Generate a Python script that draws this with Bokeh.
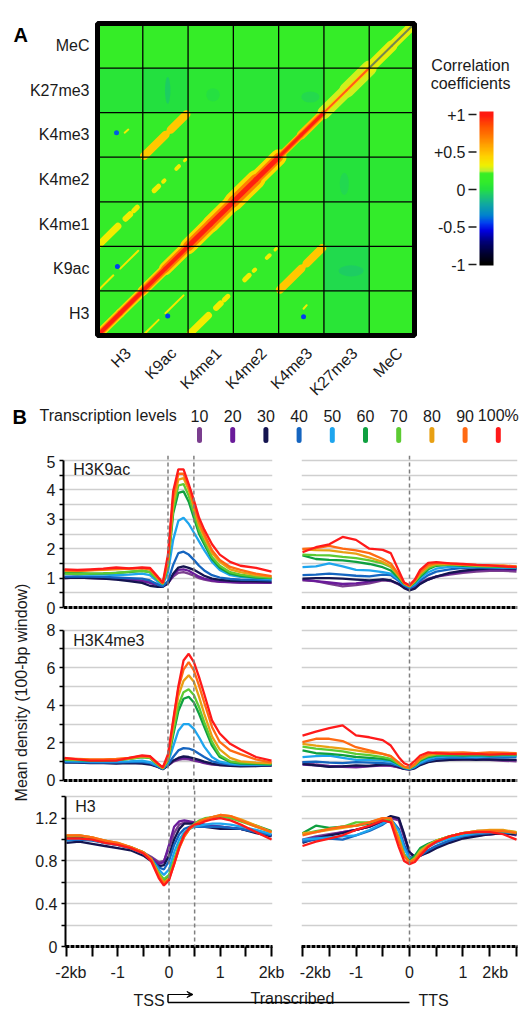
import numpy as np
from bokeh.plotting import figure
from bokeh.layouts import column, row
from bokeh.models import (Range1d, FixedTicker, Span, Label, LinearColorMapper,
                          ColumnDataSource, Arrow, VeeHead)
from bokeh.core.properties import value
from bokeh.embed import file_html
from bokeh.resources import INLINE

FONT = "Liberation Sans"
TXT = "#1a1a1a"
NB = "\u00a0"

# ======================= Panel A data =======================
marks = ["H3", "K9ac", "K4me1", "K4me2", "K4me3", "K27me3", "MeC"]
# block mean correlation; rows bottom->top, columns left->right (marks order)
block_corr = [
    [0.14, 0.10, 0.13, 0.13, 0.10, 0.04, 0.12],
    [0.10, 0.14, 0.10, 0.10, 0.12, -0.02, 0.10],
    [0.12, 0.10, 0.15, 0.15, 0.10, 0.04, 0.10],
    [0.12, 0.12, 0.15, 0.15, 0.14, 0.02, 0.06],
    [0.12, 0.12, 0.15, 0.14, 0.15, 0.04, 0.12],
    [0.04, 0.00, 0.06, 0.05, 0.04, 0.12, 0.14],
    [0.15, 0.14, 0.15, 0.14, 0.15, 0.14, 0.15],
]
# main diagonal bands (position along diagonal, block units)
diag_t0 = [0.06, 0.5, 1.0, 1.5, 2.0, 2.5, 3.0, 3.5, 4.0, 4.5, 5.0, 5.5, 6.0, 6.5]
diag_t1 = [0.5, 1.0, 1.5, 2.0, 2.5, 3.0, 3.5, 4.0, 4.5, 5.0, 5.5, 6.0, 6.5, 6.94]
diag_halo_px = [9, 9, 10, 13, 16, 17, 19, 16, 7, 9, 13, 15, 11, 9]
diag_halo_r = [0.42, 0.42, 0.42, 0.42, 0.40, 0.40, 0.40, 0.40, 0.50, 0.50, 0.28, 0.28, 0.30, 0.30]
diag_mid_px = [6, 6, 7, 8, 10, 10, 11, 9, 5, 5, 4, 4, 3, 3]
diag_mid_r = [0.72, 0.72, 0.72, 0.72, 0.70, 0.70, 0.70, 0.70, 0.75, 0.75, 0.45, 0.45, 0.40, 0.40]
diag_core_px = [4, 4, 4, 4, 5, 5, 5, 5, 3, 3, 2, 2, 2, 2]
diag_core_col = ["#ff2010"] * 10 + ["#ff5a1a"] * 2 + ["#6f8c50"] * 2
# off-diagonal correlated bands (one half; mirrored across the diagonal)
band_x0 = [1.03, 1.50, 1.62, 0.05, 0.62, 0.80, 1.25, 1.45, 1.74, 1.92, 0.05, 0.50, 4.55]
band_y0 = [4.03, 4.50, 4.62, 2.05, 2.62, 2.80, 3.25, 3.45, 3.74, 3.92, 1.05, 1.50, 0.60]
band_x1 = [1.50, 1.62, 1.96, 0.45, 0.72, 0.88, 1.35, 1.48, 1.80, 1.95, 0.35, 0.90, 4.62]
band_y1 = [4.50, 4.62, 4.96, 2.45, 2.72, 2.88, 3.35, 3.48, 3.80, 3.95, 1.35, 1.90, 0.68]
band_px = [8, 5, 8, 7, 6, 5, 5, 4, 4, 3, 2, 2, 2]
band_r = [0.47, 0.47, 0.47, 0.33, 0.33, 0.33, 0.33, 0.33, 0.33, 0.33, 0.35, 0.35, 0.33]
# small negative spots
spot_x = [0.44, 1.55, 4.55, 0.42]
spot_y = [1.55, 0.44, 0.42, 4.55]
spot_r = [-0.45, -0.45, -0.45, -0.40]
# faint bluish patches
blob_x = [1.55, 5.60, 4.70, 5.45, 2.55]
blob_y = [5.50, 1.45, 5.35, 3.40, 5.40]
blob_w = [0.12, 0.55, 0.40, 0.20, 0.30]
blob_h = [0.60, 0.25, 0.25, 0.50, 0.30]
blob_r = [-0.12, -0.10, -0.05, -0.05, -0.02]

# colour scale stops
cmap_vals = [-1.0, -0.85, -0.7, -0.55, -0.45, -0.35, -0.2, -0.05, 0.0, 0.1, 0.22, 0.25,
             0.32, 0.45, 0.55, 0.7, 0.85, 1.0]
cmap_cols = ["#000000", "#000033", "#00007a", "#0000e0", "#0040f0", "#0080d0", "#10a8a0",
             "#20d060", "#22e040", "#33ec2a", "#38ee24", "#b8f030", "#f0f000", "#ffd000",
             "#ffb000", "#ff8000", "#ff5000", "#ff1a10"]
cbar_ticks = [-1, -0.5, 0, 0.5, 1]
cbar_labels = ["-1", "-0.5", "0", "+0.5", "+1"]

# ======================= Panel B data =======================
levels = ["10", "20", "30", "40", "50", "60", "70", "80", "90", "100%"]
level_colors = ["#7a3e8e", "#6a1b9a", "#141450", "#1565c0", "#1ea5ee",
                "#0fa040", "#5ccb32", "#e8a013", "#ff6a13", "#ff1a1a"]

x_tss = [-2.0, -1.75, -1.5, -1.25, -1.0, -0.75, -0.5, -0.35, -0.2, -0.1, 0.0, 0.1, 0.2, 0.3,
         0.4, 0.5, 0.6, 0.7, 0.85, 1.0, 1.2, 1.4, 1.7, 2.0]
x_tts = [-2.0, -1.75, -1.5, -1.25, -1.0, -0.75, -0.5, -0.35, -0.2, -0.1, 0.0, 0.1, 0.2, 0.35,
         0.5, 0.75, 1.0, 1.25, 1.5, 1.75, 2.0]

k9ac_tss = [
    [1.00, 1.02, 1.00, 0.98, 0.97, 0.95, 0.92, 0.88, 0.80, 0.76, 0.85, 1.05, 1.18, 1.20, 1.15, 1.08, 1.00, 0.95, 0.90, 0.87, 0.86, 0.85, 0.85, 0.84],
    [1.02, 1.04, 1.02, 1.00, 0.98, 0.96, 0.90, 0.84, 0.76, 0.72, 0.82, 1.10, 1.28, 1.30, 1.25, 1.15, 1.05, 0.98, 0.92, 0.88, 0.86, 0.85, 0.85, 0.84],
    [1.00, 1.02, 1.00, 0.98, 0.95, 0.90, 0.84, 0.74, 0.70, 0.70, 0.82, 1.15, 1.36, 1.40, 1.35, 1.28, 1.18, 1.08, 0.98, 0.94, 0.91, 0.90, 0.89, 0.88],
    [1.05, 1.06, 1.05, 1.04, 1.02, 1.00, 0.98, 0.92, 0.78, 0.72, 0.90, 1.45, 1.85, 1.90, 1.80, 1.62, 1.42, 1.26, 1.10, 1.02, 0.97, 0.95, 0.94, 0.92],
    [1.15, 1.14, 1.12, 1.12, 1.10, 1.12, 1.15, 1.10, 0.88, 0.78, 1.20, 2.30, 2.95, 3.05, 2.85, 2.55, 2.25, 1.95, 1.55, 1.28, 1.10, 1.04, 1.00, 0.97],
    [1.18, 1.17, 1.15, 1.16, 1.18, 1.20, 1.25, 1.20, 0.95, 0.80, 1.40, 3.20, 3.90, 3.95, 3.60, 3.05, 2.50, 2.15, 1.65, 1.35, 1.15, 1.08, 1.02, 1.00],
    [1.15, 1.14, 1.15, 1.16, 1.18, 1.22, 1.25, 1.20, 0.95, 0.80, 1.45, 3.35, 4.15, 4.20, 3.80, 3.20, 2.62, 2.25, 1.72, 1.42, 1.20, 1.12, 1.05, 1.02],
    [1.25, 1.24, 1.26, 1.28, 1.30, 1.32, 1.35, 1.30, 1.00, 0.82, 1.55, 3.55, 4.35, 4.40, 4.00, 3.40, 2.80, 2.40, 1.85, 1.55, 1.30, 1.20, 1.10, 1.05],
    [1.27, 1.25, 1.27, 1.30, 1.32, 1.32, 1.34, 1.30, 1.02, 0.82, 1.65, 3.75, 4.55, 4.55, 4.10, 3.50, 2.90, 2.50, 1.95, 1.62, 1.38, 1.28, 1.15, 1.07],
    [1.30, 1.28, 1.30, 1.32, 1.36, 1.33, 1.36, 1.35, 1.05, 0.84, 1.80, 3.95, 4.70, 4.70, 4.20, 3.65, 3.05, 2.65, 2.15, 1.80, 1.55, 1.42, 1.35, 1.22],
]
k9ac_tts = [
    [0.92, 0.90, 0.80, 0.72, 0.76, 0.82, 0.92, 0.90, 0.78, 0.70, 0.66, 0.72, 0.85, 0.98, 1.05, 1.12, 1.18, 1.22, 1.25, 1.25, 1.22],
    [0.95, 0.90, 0.85, 0.80, 0.82, 0.88, 0.95, 0.92, 0.80, 0.70, 0.64, 0.70, 0.82, 0.95, 1.05, 1.15, 1.22, 1.28, 1.30, 1.30, 1.28],
    [0.98, 1.00, 1.00, 0.98, 0.95, 0.92, 0.96, 0.92, 0.80, 0.66, 0.58, 0.64, 0.80, 0.95, 1.05, 1.18, 1.25, 1.30, 1.33, 1.33, 1.32],
    [1.10, 1.12, 1.15, 1.12, 1.08, 1.06, 1.12, 1.10, 0.90, 0.75, 0.66, 0.75, 0.92, 1.10, 1.22, 1.30, 1.35, 1.36, 1.36, 1.35, 1.34],
    [1.37, 1.40, 1.50, 1.40, 1.28, 1.26, 1.20, 1.15, 0.95, 0.78, 0.70, 0.80, 1.00, 1.20, 1.32, 1.38, 1.38, 1.38, 1.37, 1.36, 1.35],
    [1.77, 1.65, 1.62, 1.60, 1.55, 1.48, 1.37, 1.26, 1.00, 0.80, 0.72, 0.85, 1.05, 1.30, 1.42, 1.45, 1.42, 1.40, 1.40, 1.38, 1.37],
    [1.80, 1.78, 1.77, 1.72, 1.68, 1.60, 1.50, 1.38, 1.05, 0.82, 0.72, 0.88, 1.10, 1.35, 1.45, 1.47, 1.45, 1.42, 1.40, 1.40, 1.38],
    [1.98, 1.95, 1.94, 1.88, 1.83, 1.70, 1.55, 1.40, 1.08, 0.82, 0.72, 0.90, 1.15, 1.40, 1.48, 1.48, 1.45, 1.43, 1.42, 1.42, 1.40],
    [1.99, 2.02, 2.10, 2.00, 1.94, 1.85, 1.65, 1.50, 1.12, 0.84, 0.74, 0.92, 1.20, 1.45, 1.52, 1.50, 1.47, 1.45, 1.43, 1.42, 1.40],
    [1.88, 2.05, 2.15, 2.40, 2.30, 2.00, 1.96, 1.85, 1.25, 0.85, 0.76, 0.95, 1.28, 1.52, 1.54, 1.50, 1.48, 1.45, 1.43, 1.40, 1.37],
]
k4me3_tss = [
    [1.00, 0.98, 0.95, 0.95, 0.95, 0.95, 0.95, 0.90, 0.75, 0.62, 0.80, 1.00, 1.10, 1.15, 1.12, 1.05, 1.00, 0.92, 0.85, 0.82, 0.80, 0.80, 0.80, 0.78],
    [1.00, 1.00, 0.98, 0.96, 0.95, 0.96, 0.95, 0.90, 0.75, 0.62, 0.82, 1.05, 1.15, 1.20, 1.18, 1.10, 1.02, 0.95, 0.88, 0.85, 0.82, 0.80, 0.80, 0.80],
    [0.95, 0.95, 0.92, 0.92, 0.90, 0.92, 0.90, 0.85, 0.72, 0.60, 0.80, 1.05, 1.20, 1.28, 1.25, 1.18, 1.10, 1.00, 0.90, 0.82, 0.78, 0.75, 0.76, 0.80],
    [0.98, 0.98, 0.95, 0.95, 0.95, 0.98, 0.98, 0.92, 0.75, 0.62, 0.85, 1.25, 1.60, 1.72, 1.70, 1.60, 1.42, 1.25, 1.02, 0.92, 0.85, 0.82, 0.82, 0.82],
    [1.05, 1.02, 1.00, 1.00, 1.00, 1.02, 1.05, 0.98, 0.78, 0.64, 0.95, 1.80, 2.65, 3.00, 3.00, 2.75, 2.30, 1.80, 1.25, 1.00, 0.90, 0.85, 0.85, 0.85],
    [1.10, 1.08, 1.05, 1.05, 1.08, 1.15, 1.25, 1.20, 0.85, 0.65, 1.05, 2.40, 3.70, 4.35, 4.45, 4.15, 3.55, 2.85, 1.85, 1.25, 0.98, 0.90, 0.88, 0.85],
    [1.12, 1.10, 1.08, 1.08, 1.10, 1.15, 1.25, 1.20, 0.85, 0.65, 1.10, 2.60, 4.00, 4.70, 4.85, 4.55, 3.90, 3.10, 2.05, 1.35, 1.02, 0.95, 0.92, 0.90],
    [1.15, 1.12, 1.10, 1.10, 1.12, 1.18, 1.30, 1.25, 0.88, 0.66, 1.15, 2.90, 4.50, 5.30, 5.60, 5.25, 4.45, 3.55, 2.35, 1.65, 1.20, 1.02, 0.95, 0.92],
    [1.18, 1.15, 1.12, 1.12, 1.15, 1.20, 1.30, 1.28, 0.90, 0.68, 1.25, 3.10, 4.90, 5.90, 6.30, 5.85, 5.05, 4.15, 2.85, 2.05, 1.60, 1.40, 1.12, 0.95],
    [1.20, 1.12, 1.06, 1.06, 1.06, 1.20, 1.33, 1.30, 0.92, 0.70, 1.40, 3.20, 5.00, 6.38, 6.74, 6.30, 5.50, 4.60, 3.20, 2.50, 1.95, 1.65, 1.25, 1.06],
]
k4me3_tts = [
    [0.98, 0.85, 0.78, 0.72, 0.70, 0.75, 0.80, 0.78, 0.70, 0.62, 0.60, 0.70, 0.90, 1.05, 1.08, 1.10, 1.12, 1.12, 1.10, 1.05, 1.02],
    [0.85, 0.80, 0.75, 0.75, 0.72, 0.78, 0.82, 0.80, 0.70, 0.62, 0.60, 0.68, 0.85, 1.00, 1.08, 1.12, 1.15, 1.15, 1.12, 1.10, 1.08],
    [0.89, 0.80, 0.72, 0.75, 0.80, 0.78, 0.85, 0.85, 0.72, 0.62, 0.58, 0.65, 0.82, 0.98, 1.05, 1.10, 1.12, 1.10, 1.12, 1.10, 1.10],
    [0.98, 1.00, 0.95, 0.92, 0.98, 0.95, 0.92, 0.90, 0.78, 0.65, 0.60, 0.70, 0.90, 1.05, 1.15, 1.20, 1.20, 1.22, 1.25, 1.22, 1.25],
    [1.24, 1.30, 1.33, 1.20, 1.10, 1.08, 1.06, 1.00, 0.82, 0.68, 0.62, 0.75, 0.95, 1.15, 1.25, 1.28, 1.28, 1.25, 1.28, 1.30, 1.30],
    [1.60, 1.45, 1.42, 1.35, 1.25, 1.20, 1.15, 1.08, 0.85, 0.70, 0.64, 0.80, 1.05, 1.25, 1.32, 1.35, 1.32, 1.35, 1.32, 1.35, 1.35],
    [1.80, 1.70, 1.63, 1.55, 1.42, 1.35, 1.24, 1.15, 0.88, 0.70, 0.65, 0.82, 1.10, 1.30, 1.38, 1.40, 1.38, 1.40, 1.38, 1.40, 1.38],
    [1.95, 1.85, 1.77, 1.70, 1.60, 1.50, 1.42, 1.30, 0.92, 0.72, 0.66, 0.85, 1.15, 1.35, 1.42, 1.42, 1.45, 1.42, 1.45, 1.42, 1.45],
    [2.04, 2.22, 2.22, 2.10, 1.77, 1.60, 1.42, 1.30, 0.95, 0.74, 0.68, 0.88, 1.20, 1.42, 1.50, 1.48, 1.50, 1.45, 1.50, 1.48, 1.45],
    [2.39, 2.60, 2.78, 2.93, 2.40, 2.30, 2.15, 1.86, 1.24, 0.92, 0.80, 1.05, 1.33, 1.50, 1.45, 1.42, 1.40, 1.42, 1.38, 1.40, 1.40],
]
h3_tss = [
    [1.00, 1.01, 1.00, 0.97, 0.96, 0.93, 0.88, 0.84, 0.79, 0.80, 0.92, 1.06, 1.14, 1.16, 1.16, 1.15, 1.14, 1.13, 1.12, 1.12, 1.11, 1.10, 1.07, 1.04],
    [1.00, 1.02, 1.00, 0.97, 0.95, 0.92, 0.87, 0.83, 0.77, 0.79, 0.95, 1.12, 1.17, 1.18, 1.17, 1.16, 1.15, 1.14, 1.13, 1.12, 1.11, 1.10, 1.07, 1.04],
    [0.97, 0.98, 0.96, 0.94, 0.92, 0.90, 0.85, 0.80, 0.75, 0.76, 0.85, 1.00, 1.10, 1.15, 1.15, 1.15, 1.14, 1.12, 1.11, 1.10, 1.10, 1.10, 1.06, 1.03],
    [0.99, 1.00, 0.99, 0.97, 0.95, 0.92, 0.87, 0.82, 0.74, 0.72, 0.80, 0.95, 1.05, 1.10, 1.12, 1.12, 1.12, 1.12, 1.12, 1.12, 1.11, 1.10, 1.07, 1.04],
    [1.00, 1.01, 1.00, 0.97, 0.95, 0.92, 0.87, 0.82, 0.72, 0.67, 0.72, 0.88, 1.00, 1.07, 1.10, 1.12, 1.13, 1.14, 1.15, 1.15, 1.14, 1.12, 1.09, 1.05],
    [1.02, 1.03, 1.01, 0.99, 0.96, 0.92, 0.88, 0.82, 0.68, 0.62, 0.66, 0.80, 0.94, 1.04, 1.10, 1.14, 1.17, 1.19, 1.21, 1.22, 1.21, 1.18, 1.13, 1.08],
    [1.03, 1.04, 1.02, 0.98, 0.96, 0.93, 0.88, 0.82, 0.69, 0.63, 0.67, 0.81, 0.95, 1.05, 1.11, 1.15, 1.18, 1.20, 1.21, 1.22, 1.20, 1.17, 1.12, 1.07],
    [1.04, 1.04, 1.02, 0.99, 0.97, 0.93, 0.88, 0.82, 0.67, 0.60, 0.64, 0.78, 0.93, 1.03, 1.10, 1.14, 1.17, 1.19, 1.21, 1.23, 1.22, 1.19, 1.13, 1.07],
    [1.04, 1.04, 1.02, 0.99, 0.97, 0.93, 0.88, 0.82, 0.66, 0.59, 0.63, 0.77, 0.92, 1.03, 1.10, 1.14, 1.17, 1.19, 1.21, 1.23, 1.22, 1.18, 1.12, 1.07],
    [1.01, 1.01, 1.00, 0.97, 0.95, 0.92, 0.87, 0.80, 0.64, 0.57, 0.62, 0.77, 0.93, 1.05, 1.11, 1.14, 1.15, 1.17, 1.19, 1.20, 1.18, 1.14, 1.07, 1.00],
]
h3_tts = [
    [1.00, 1.03, 1.05, 1.07, 1.09, 1.12, 1.17, 1.20, 1.18, 1.02, 0.88, 0.84, 0.86, 0.90, 0.94, 0.99, 1.02, 1.04, 1.05, 1.06, 1.04],
    [0.99, 1.02, 1.04, 1.07, 1.09, 1.12, 1.17, 1.21, 1.19, 1.04, 0.88, 0.83, 0.85, 0.89, 0.93, 0.98, 1.02, 1.04, 1.05, 1.06, 1.05],
    [0.97, 1.01, 1.04, 1.06, 1.09, 1.12, 1.18, 1.22, 1.20, 1.05, 0.88, 0.84, 0.85, 0.88, 0.92, 0.97, 1.01, 1.03, 1.05, 1.06, 1.05],
    [0.98, 1.00, 1.01, 1.00, 1.04, 1.08, 1.14, 1.19, 1.10, 0.95, 0.84, 0.82, 0.85, 0.90, 0.94, 0.99, 1.03, 1.05, 1.06, 1.07, 1.06],
    [1.00, 1.01, 1.02, 1.03, 1.04, 1.09, 1.15, 1.19, 1.08, 0.92, 0.82, 0.83, 0.88, 0.93, 0.97, 1.01, 1.04, 1.06, 1.07, 1.07, 1.06],
    [1.06, 1.13, 1.11, 1.12, 1.13, 1.15, 1.18, 1.18, 1.00, 0.86, 0.80, 0.85, 0.92, 0.96, 0.99, 1.03, 1.06, 1.07, 1.08, 1.08, 1.06],
    [1.05, 1.08, 1.10, 1.12, 1.16, 1.16, 1.19, 1.19, 1.02, 0.86, 0.79, 0.83, 0.90, 0.95, 0.99, 1.03, 1.06, 1.08, 1.08, 1.08, 1.07],
    [1.06, 1.07, 1.09, 1.11, 1.13, 1.16, 1.20, 1.20, 1.01, 0.85, 0.79, 0.82, 0.89, 0.95, 0.99, 1.03, 1.06, 1.08, 1.09, 1.09, 1.07],
    [1.04, 1.07, 1.10, 1.12, 1.13, 1.16, 1.20, 1.20, 0.98, 0.84, 0.79, 0.81, 0.87, 0.94, 0.98, 1.03, 1.06, 1.08, 1.08, 1.08, 1.06],
    [0.94, 0.98, 1.01, 1.04, 1.09, 1.13, 1.18, 1.16, 0.93, 0.80, 0.77, 0.79, 0.85, 0.93, 0.98, 1.03, 1.06, 1.07, 1.07, 1.05, 1.00],
]
x_ticks = [-2, -1.5, -1, -0.5, 0, 0.5, 1, 1.5, 2]
x_tick_text = {-2: "-2kb", -1.5: "", -1: "-1", -0.5: "", 0: "0", 0.5: "", 1: "1", 1.5: "", 2: "2kb"}

# ======================= colour palette =======================
def _rgb(h):
    return tuple(int(h[i:i + 2], 16) for i in (1, 3, 5))

palette = []
for v in np.linspace(-1, 1, 256):
    j = int(np.searchsorted(cmap_vals, v, side="right") - 1)
    j = min(max(j, 0), len(cmap_vals) - 2)
    t = (v - cmap_vals[j]) / (cmap_vals[j + 1] - cmap_vals[j])
    a, b = _rgb(cmap_cols[j]), _rgb(cmap_cols[j + 1])
    palette.append("#%02x%02x%02x" % tuple(int(round(a[k] + (b[k] - a[k]) * t)) for k in range(3)))
mapper = LinearColorMapper(palette=palette, low=-1, high=1)
mapped = {"field": "v", "transform": mapper}

COMMON = dict(output_backend="svg", toolbar_location=None)
TOTAL_W = 521

# ======================= Panel A figure (heatmap + colour bar) =======================
W_A, H_A = TOTAL_W, 398
HM_L, HM_R, HM_T, HM_B = 97, 414, 23, 335          # heat-map box in pixels
sx = (HM_R - HM_L) / 7.0
sy = (HM_B - HM_T) / 7.0
CB_L, CB_R, CB_TOP, CB_BOT, CB_P1, CB_M1 = 479, 493, 111, 265, 114, 264
cs = (CB_M1 - CB_P1) / 2.0


def hx(px):
    return (px - HM_L) / sx


def cbv(py):
    return 1 + (CB_P1 - py) / cs


pA = figure(width=W_A, height=H_A, x_range=Range1d(hx(0), hx(W_A)),
            y_range=Range1d(-(H_A - HM_B) / sy, 7 + HM_T / sy),
            x_axis_location=None, y_axis_location=None, min_border=0, **COMMON)
pA.extra_y_ranges = {"cb": Range1d(cbv(H_A), cbv(0))}
pA.grid.visible = False
pA.outline_line_color = None

bx, by, bv = [], [], []
for r in range(7):
    for c in range(7):
        bx.append(c + 0.5)
        by.append(r + 0.5)
        bv.append(block_corr[r][c])
pA.rect(x="x", y="y", width=1.0, height=1.0, fill_color=mapped, line_color=mapped,
        line_width=0.5, source=ColumnDataSource(dict(x=bx, y=by, v=bv)))
pA.ellipse(x="x", y="y", width="w", height="h", fill_color=mapped, fill_alpha=0.55, line_color=None,
           source=ColumnDataSource(dict(x=blob_x, y=blob_y, w=blob_w, h=blob_h, v=blob_r)))

ox0 = band_x0 + band_y0
oy0 = band_y0 + band_x0
ox1 = band_x1 + band_y1
oy1 = band_y1 + band_x1
pA.segment(x0="x0", y0="y0", x1="x1", y1="y1", line_width="w", line_color=mapped, line_cap="round",
           source=ColumnDataSource(dict(x0=ox0, y0=oy0, x1=ox1, y1=oy1, w=band_px * 2, v=band_r * 2)))
pA.scatter(x="x", y="y", size=5, fill_color=mapped, line_color=None,
           source=ColumnDataSource(dict(x=spot_x, y=spot_y, v=spot_r)))

dsrc = dict(t0=diag_t0, t1=diag_t1)
pA.segment(x0="t0", y0="t0", x1="t1", y1="t1", line_width="w", line_color=mapped, line_cap="round",
           source=ColumnDataSource(dict(dsrc, w=diag_halo_px, v=diag_halo_r)))
pA.segment(x0="t0", y0="t0", x1="t1", y1="t1", line_width="w", line_color=mapped, line_cap="round",
           source=ColumnDataSource(dict(dsrc, w=diag_mid_px, v=diag_mid_r)))
pA.segment(x0="t0", y0="t0", x1="t1", y1="t1", line_width="w", line_color="c", line_cap="round",
           source=ColumnDataSource(dict(dsrc, w=diag_core_px, c=diag_core_col)))

kk = list(range(1, 7))
pA.segment(x0=kk, y0=[0] * 6, x1=kk, y1=[7] * 6, line_color="black", line_width=1.3)
pA.segment(x0=[0] * 6, y0=kk, x1=[7] * 6, y1=kk, line_color="black", line_width=1.3)
pA.rect(x=[3.5], y=[3.5], width=7, height=7, fill_color=None, line_color="black", line_width=5)

centers = [i + 0.5 for i in range(len(marks))]
pA.text(x=[-8 / sx] * 7, y=centers, text=marks, text_font=value(FONT), text_font_size="16px",
        text_color=TXT, text_align="right", text_baseline="middle")
pA.text(x=[c + 8 / sx for c in centers], y=[-15 / sy] * 7, text=marks, angle=np.pi / 4,
        text_font=value(FONT), text_font_size="16px", text_color=TXT, text_align="right",
        text_baseline="alphabetic")
pA.text(x=[hx(13)], y=[(HM_B - 34) / sy], text=["A"], text_font=value(FONT),
        text_font_style="bold", text_font_size="20px", text_color="black",
        text_baseline="alphabetic")

# colour bar
grad = np.linspace(cbv(CB_BOT), cbv(CB_TOP), 300).reshape(-1, 1)
pA.image(image=[grad], x=hx(CB_L), y=cbv(CB_BOT), dw=(CB_R - CB_L) / sx,
         dh=(CB_BOT - CB_TOP) / cs, color_mapper=mapper, y_range_name="cb")
pA.segment(x0=[hx(468)] * 5, y0=cbar_ticks, x1=[hx(476)] * 5, y1=cbar_ticks,
           line_color=TXT, line_width=1.5, y_range_name="cb")
pA.text(x=[hx(465)] * 5, y=cbar_ticks, text=cbar_labels, text_font=value(FONT),
        text_font_size="16px", text_color=TXT, text_align="right", text_baseline="middle",
        y_range_name="cb")
pA.text(x=[hx(470)] * 2, y=[cbv(65), cbv(83)], text=["Correlation", "coefficients"],
        text_font=value(FONT), text_font_size="16px", text_color=TXT, text_align="center",
        text_baseline="alphabetic", y_range_name="cb")

# ======================= Panel B header / legend =======================
H_L = 57
pL = figure(width=TOTAL_W, height=H_L, x_range=Range1d(0, TOTAL_W), y_range=Range1d(H_L, 0),
            x_axis_location=None, y_axis_location=None, min_border=0, **COMMON)
pL.grid.visible = False
pL.outline_line_color = None
pL.text(x=[12], y=[18], text=["B"], text_font=value(FONT), text_font_style="bold",
        text_font_size="20px", text_color="black", text_baseline="alphabetic")
pL.text(x=[39], y=[17], text=["Transcription levels"], text_font=value(FONT),
        text_font_size="16px", text_color=TXT, text_baseline="alphabetic")
leg_x = [199 + 33.2 * i for i in range(len(levels))]
pL.text(x=leg_x, y=[17] * len(levels), text=levels, text_font=value(FONT),
        text_font_size="16px", text_color=TXT, text_align="center", text_baseline="alphabetic")
pL.segment(x0=leg_x, y0=[31] * len(levels), x1=leg_x, y1=[42] * len(levels),
           line_color=level_colors, line_width=5, line_cap="round")

# ======================= Panel B profiles =======================
YLAB_W = 32
LEFT_W, LB, LFW = 254, 31, 209          # left frame: 63..272
RIGHT_W, RB, RFW = 235, 15, 216         # right frame: 301..517
XL = (-2.019, 2.019)
XR = (-2.0187, 2.0187)
ROW3_BORDER = 35


def profile(xs, series, left, yr, height, grid_vals, yticks, yminor, ybound, bottom_axis,
            panel_name=None, name_y=None):
    xr = XL if left else XR
    if left:
        kw = dict(width=LEFT_W, min_border_left=LB, min_border_right=LEFT_W - LB - LFW)
    else:
        kw = dict(width=RIGHT_W, min_border_left=RB, min_border_right=RIGHT_W - RB - RFW)
    p = figure(height=height, x_range=Range1d(*xr), y_range=Range1d(*yr), min_border_top=0,
               min_border_bottom=(ROW3_BORDER if bottom_axis else 0),
               x_axis_location=("below" if bottom_axis else None),
               y_axis_location=("left" if left else None), **kw, **COMMON)
    p.outline_line_color = None
    p.xgrid.visible = False
    p.ygrid.ticker = FixedTicker(ticks=grid_vals)
    p.ygrid.grid_line_color = "#cfcfcf"
    p.ygrid.grid_line_width = 1.5
    if left:
        ya = p.yaxis[0]
        ya.ticker = FixedTicker(ticks=yticks, minor_ticks=yminor)
        ya.bounds = ybound
        ya.axis_line_width = 2
        ya.axis_line_color = "black"
        ya.major_tick_out = 4
        ya.major_tick_in = 0
        ya.minor_tick_out = 4
        ya.minor_tick_in = 0
        ya.major_tick_line_width = 1.5
        ya.minor_tick_line_width = 1.5
        ya.major_label_standoff = 4
        ya.major_label_text_font = FONT
        ya.major_label_text_font_size = "16px"
        ya.major_label_text_color = TXT
    if bottom_axis:
        xa = p.xaxis[0]
        xa.ticker = FixedTicker(ticks=x_ticks)
        ov = dict(x_tick_text)
        if left:
            ov[-2] = NB * 2 + ov[-2]
        else:
            ov[-2] = NB * 3 + ov[-2]
            ov[2] = ov[2] + NB * 3
        xa.major_label_overrides = ov
        xa.axis_line_width = 3
        xa.axis_line_dash = "4 1"
        xa.major_tick_out = 10
        xa.major_tick_in = 0
        xa.major_tick_line_width = 2
        xa.minor_tick_line_color = None
        xa.major_label_standoff = 7
        xa.major_label_text_font = FONT
        xa.major_label_text_font_size = "16px"
        xa.major_label_text_color = TXT
    else:
        p.add_layout(Span(location=0, dimension="width", line_color="black", line_width=3,
                          line_dash="4 1"))
    for loc in ([0, 0.5] if left else [0]):
        p.add_layout(Span(location=loc, dimension="height", line_color="#7f7f7f", line_width=1.5,
                          line_dash="4 3"))
    for vals, col in zip(series, level_colors):
        p.line(xs, vals, line_color=col, line_width=2.3)
    if panel_name:
        p.add_layout(Label(x=-1.83, y=name_y, text=panel_name, text_font=FONT,
                           text_font_size="16px", text_color=TXT))
    return p


g1 = [0.5 * i for i in range(1, 11)]
g2 = [1, 2, 3, 4, 5, 6, 7, 8]
g3 = [0.2, 0.4, 0.6, 0.8, 1.0, 1.2, 1.4]
R1H, R2H, R3F = 162, 173, 158
H3ROW = R3F + ROW3_BORDER
r1l = profile(x_tss, k9ac_tss, True, (-0.340, 5.17), R1H, g1, [0, 1, 2, 3, 4, 5],
              [0.5, 1.5, 2.5, 3.5, 4.5], (0, 5), False, "H3K9ac", 4.42)
r1r = profile(x_tts, k9ac_tts, False, (-0.340, 5.17), R1H, g1, [], [], (0, 5), False)
r2l = profile(x_tss, k4me3_tss, True, (-0.532, 8.67), R2H, g2, [0, 2, 4, 6, 8], [1, 3, 5, 7],
              (0, 8), False, "H3K4me3", 6.97)
r2r = profile(x_tts, k4me3_tts, False, (-0.532, 8.67), R2H, g2, [], [], (0, 8), False)
r3l = profile(x_tss, h3_tss, True, (0, 1.459), H3ROW, g3, [0, 0.4, 0.8, 1.2],
              [0.2, 0.6, 1.0, 1.4], (0, 1.4), True, "H3", 1.228)
r3r = profile(x_tts, h3_tts, False, (0, 1.459), H3ROW, g3, [], [], (0, 1.4), True)

# y-axis title spanning the three rows
H_P = R1H + R2H + H3ROW
pY = figure(width=YLAB_W, height=H_P, x_range=Range1d(0, YLAB_W), y_range=Range1d(H_P, 0),
            x_axis_location=None, y_axis_location=None, min_border=0, **COMMON)
pY.grid.visible = False
pY.outline_line_color = None
pY.text(x=[21], y=[692 - 455], text=["Mean density (100-bp window)"], angle=np.pi / 2,
        text_font=value(FONT), text_font_size="16px", text_color=TXT, text_align="center",
        text_baseline="middle")

# bottom annotation: TSS -> Transcribed -> TTS   (y measured from the top of this strip)
tss_px = YLAB_W + LB + LFW * (0 - XL[0]) / (XL[1] - XL[0])
tts_px = YLAB_W + LEFT_W + RB + RFW * (0 - XR[0]) / (XR[1] - XR[0])
H_B = 26
pB = figure(width=TOTAL_W, height=H_B, x_range=Range1d(0, TOTAL_W), y_range=Range1d(H_B, 0),
            x_axis_location=None, y_axis_location=None, min_border=0, **COMMON)
pB.grid.visible = False
pB.outline_line_color = None
pB.text(x=[133], y=[17], text=["TSS"], text_font=value(FONT), text_font_size="16px",
        text_color=TXT, text_baseline="alphabetic")
pB.text(x=[250], y=[15], text=["Transcribed"], text_font=value(FONT),
        text_font_size="16px", text_color=TXT, text_baseline="alphabetic")
pB.text(x=[418], y=[17], text=["TTS"], text_font=value(FONT), text_font_size="16px",
        text_color=TXT, text_baseline="alphabetic")
pB.segment(x0=[tss_px, tss_px], y0=[19, 19], x1=[tts_px, tss_px], y1=[19, 11],
           line_color="black", line_width=1.5)
pB.add_layout(Arrow(end=VeeHead(size=6, fill_color="black", line_color="black"),
                    x_start=tss_px, y_start=11, x_end=tss_px + 25, y_end=11,
                    line_color="black", line_width=1.2))

layout = column(
    pA,
    pL,
    row(pY, column(row(r1l, r1r), row(r2l, r2r), row(r3l, r3r))),
    pB,
)

open("out.html", "w").write(file_html(layout, INLINE))
